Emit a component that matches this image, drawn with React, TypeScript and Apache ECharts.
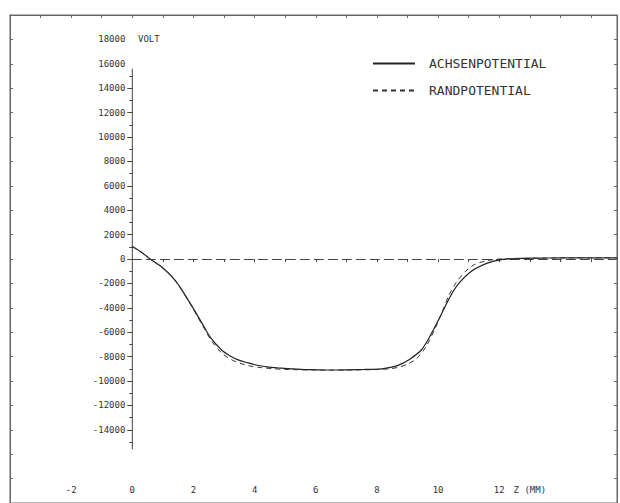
import React, { useEffect, useRef } from "react";
import * as echarts from "echarts";

// Achsenpotential (solid) – z in mm, potential in volt
const zAchsen = [0, 0.3, 0.58, 0.9, 1.18, 1.4, 1.56, 1.94, 2.32, 2.54, 2.92, 3.2, 3.46, 3.79, 4.01, 4.4, 4.88, 5.5, 6.0, 6.5, 7.06, 7.6, 8.15, 8.4, 8.69, 9.02, 9.45, 9.78, 10.11, 10.38, 10.65, 11.09, 11.63, 12.07, 12.5, 13.3, 14.0, 15.0, 15.85];
const achsenVolt = [1030, 560, 0, -540, -1150, -1750, -2300, -3820, -5440, -6380, -7460, -7950, -8270, -8520, -8670, -8850, -8950, -9050, -9080, -9100, -9080, -9050, -9000, -8900, -8720, -8300, -7460, -6110, -4500, -3150, -2080, -1000, -320, -50, 30, 70, 90, 100, 100];

// Randpotential (dashed)
const zRand = [0, 0.3, 0.58, 0.9, 1.18, 1.4, 1.56, 1.94, 2.32, 2.6, 2.92, 3.2, 3.5, 3.8, 4.2, 4.6, 5.0, 5.5, 6.0, 6.5, 7.0, 7.5, 8.0, 8.4, 8.7, 9.0, 9.3, 9.6, 9.9, 10.1, 10.35, 10.6, 10.9, 11.2, 11.6, 12.0, 12.5, 13.3, 14.0, 15.0, 15.85];
const randVolt = [1000, 550, 0, -560, -1170, -1780, -2340, -3880, -5550, -6750, -7700, -8200, -8520, -8750, -8900, -8990, -9050, -9080, -9100, -9110, -9100, -9090, -9060, -9000, -8880, -8620, -8150, -7200, -5700, -4550, -3000, -1900, -1000, -450, -130, 0, 40, 70, 90, 100, 100];

// Tick / label values
const yLabelValues = [-14000, -12000, -10000, -8000, -6000, -4000, -2000, 0, 2000, 4000, 6000, 8000, 10000, 12000, 14000, 16000, 18000];
const yMajorTicks = [-14000, -12000, -10000, -8000, -6000, -4000, -2000, 0, 2000, 4000, 6000, 8000, 10000, 12000, 14000];
const yMinorTicks = [-15000, -13000, -11000, -9000, -7000, -5000, -3000, -1000, 1000, 3000, 5000, 7000, 9000, 11000, 13000, 15000];
const xLabelValues = [-2, 0, 2, 4, 6, 8, 10, 12, 13];
const frameXTicks = [-3, -2, -1, 0, 1, 2, 3, 4, 5, 6, 7, 8, 9, 10, 11, 12, 13, 14, 15];
const frameYTicks = [-18000, -16000, -14000, -12000, -10000, -8000, -6000, -4000, -2000, 0, 2000, 4000, 6000, 8000, 10000, 12000, 14000, 16000, 18000];
const zeroAxisTicks = [1, 2, 3, 4, 5, 6, 7, 8, 9, 10, 11, 12, 13, 14, 15];
const yAxisLineExtent = [-15600, 15600];

const X_MIN = -4;
const X_MAX = 15.85;
const Y_MIN = -20000;
const Y_MAX = 20000;

const FONT = "DejaVu Sans Mono";
const INK = "#333";
const FRAME = "#666";

export default function App() {
  const ref = useRef<HTMLDivElement>(null);

  useEffect(() => {
    if (!ref.current) return;
    const chart = echarts.init(ref.current, null, { renderer: "svg" });

    const gridLeft = 10;
    const gridWidth = 607;
    const pxPerMM = gridWidth / (X_MAX - X_MIN);
    const zeroX = gridLeft + (0 - X_MIN) * pxPerMM;

    const option: any = {
      animation: false,
      backgroundColor: "#fff",
      grid: [
        { left: gridLeft, top: 15, width: gridWidth, height: 492, show: true, borderColor: FRAME, borderWidth: 1, backgroundColor: "transparent" },
        { left: zeroX, top: 15, width: gridWidth - (zeroX - gridLeft), height: 492, show: false },
      ],
      legend: {
        data: ["ACHSENPOTENTIAL", "RANDPOTENTIAL"],
        orient: "vertical",
        left: 372,
        top: 57,
        padding: 0,
        itemWidth: 42,
        itemHeight: 14,
        itemGap: 14,
        itemStyle: { opacity: 0 },
        textStyle: { fontFamily: FONT, fontSize: 13, color: INK, padding: [0, 0, 0, 9] },
      },
      graphic: [
        { type: "text", left: 138, top: 34, style: { text: "VOLT", font: `9px "${FONT}"`, fill: INK } },
      ],
      xAxis: [
        {
          gridIndex: 0, type: "value", position: "top", min: X_MIN, max: X_MAX,
          axisLine: { show: true, onZero: false, lineStyle: { color: FRAME, width: 1 } },
          axisTick: { show: true, inside: true, length: 3, customValues: frameXTicks, lineStyle: { color: FRAME } },
          axisLabel: { show: false }, splitLine: { show: false },
        },
        {
          gridIndex: 0, type: "value", position: "bottom", min: X_MIN, max: X_MAX, offset: -18,
          axisLine: { show: false, onZero: false }, axisTick: { show: false }, splitLine: { show: false },
          axisLabel: {
            show: true, margin: 0, customValues: xLabelValues, fontFamily: FONT, fontSize: 9, color: INK,
            formatter: (v: number) => (v === 13 ? "Z (MM)" : String(v)),
          },
        },
        {
          gridIndex: 1, type: "value", position: "bottom", min: 0, max: X_MAX,
          axisLine: { show: true, onZero: true, lineStyle: { color: "#444", width: 1, type: [9, 5] } },
          axisTick: { show: true, length: 3, customValues: zeroAxisTicks, lineStyle: { color: "#444" } },
          axisLabel: { show: false }, splitLine: { show: false },
        },
      ],
      yAxis: [
        {
          gridIndex: 0, type: "value", position: "left", min: Y_MIN, max: Y_MAX,
          axisLine: { show: true, onZero: false, lineStyle: { color: FRAME } },
          axisTick: { show: true, inside: true, length: 3, customValues: frameYTicks, lineStyle: { color: FRAME } },
          axisLabel: { show: false }, splitLine: { show: false },
        },
        {
          gridIndex: 0, type: "value", position: "right", min: Y_MIN, max: Y_MAX,
          axisLine: { show: true, onZero: false, lineStyle: { color: FRAME } },
          axisTick: { show: true, inside: true, length: 3, customValues: frameYTicks, lineStyle: { color: FRAME } },
          axisLabel: { show: false }, splitLine: { show: false },
        },
        {
          gridIndex: 0, type: "value", position: "left", min: Y_MIN, max: Y_MAX, offset: -(zeroX - gridLeft),
          axisLine: { show: false, onZero: false },
          axisTick: { show: true, length: 5, customValues: yMajorTicks, lineStyle: { color: "#444" } },
          axisLabel: {
            show: true, margin: 7, customValues: yLabelValues, fontFamily: FONT, fontSize: 9, color: INK,
            formatter: (v: number) => String(v),
          },
          splitLine: { show: false },
        },
        {
          gridIndex: 0, type: "value", position: "left", min: Y_MIN, max: Y_MAX, offset: -(zeroX - gridLeft),
          axisLine: { show: false, onZero: false },
          axisTick: { show: true, length: 3, customValues: yMinorTicks, lineStyle: { color: "#444" } },
          axisLabel: { show: false }, splitLine: { show: false },
        },
        { gridIndex: 1, type: "value", min: Y_MIN, max: Y_MAX, show: false, axisLine: { onZero: false } },
      ],
      series: [
        {
          name: "yaxis", type: "line", xAxisIndex: 0, yAxisIndex: 0, silent: true, symbol: "none",
          data: [[0, yAxisLineExtent[0]], [0, yAxisLineExtent[1]]],
          lineStyle: { color: "#444", width: 1 },
        },
        {
          name: "ACHSENPOTENTIAL", type: "line", xAxisIndex: 0, yAxisIndex: 0, symbol: "none", smooth: 0.3,
          data: zAchsen.map((z, i) => [z, achsenVolt[i]]),
          lineStyle: { color: "#222", width: 1.2, type: "solid" },
          itemStyle: { color: "#222" },
        },
        {
          name: "RANDPOTENTIAL", type: "line", xAxisIndex: 0, yAxisIndex: 0, symbol: "none", smooth: 0.3,
          data: zRand.map((z, i) => [z, randVolt[i]]),
          lineStyle: { color: "#333", width: 1, type: [5, 4] },
          itemStyle: { color: "#333" },
        },
      ],
    };

    chart.setOption(option);
    return () => chart.dispose();
  }, []);

  return <div ref={ref} style={{ position: "absolute", left: 0, top: 0, width: 620, height: 503 }} />;
}
